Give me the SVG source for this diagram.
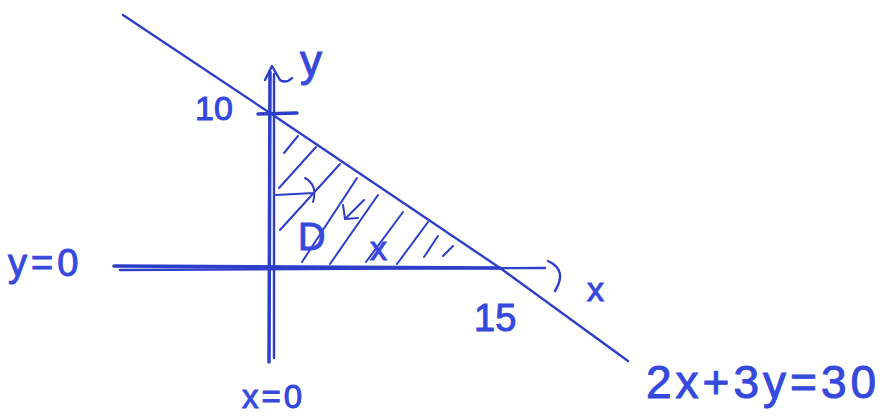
<svg xmlns="http://www.w3.org/2000/svg" width="891" height="418" viewBox="0 0 891 418">
<style>
.ln{fill:none;stroke:#2d3fc8;stroke-linecap:round;stroke-linejoin:round}
.ax{stroke-width:3.5}
.th{stroke-width:2.4}
.ht{stroke-width:2}
.lbl{font-family:"Liberation Sans",Arial,sans-serif;fill:#3549dc;stroke:#3549dc;stroke-width:1}
</style>
<rect width="891" height="418" fill="#ffffff"/>
<g id="connectors">
  <g id="line-2x3y30">
    <path class="ln th" d="M123 15 L270 113 L500 268 L628 361"/>
  </g>
  <g id="y-axis">
    <path class="ln ax" d="M269 362 L270 72"/>
    <path class="ln th" d="M274 358 L274 74"/>
    <path class="ln th" d="M265 80 L272 66 L280 80 Q286 84 292 78"/>
    <path class="ln ax" d="M258 114 L297 113"/>
  </g>
  <g id="x-axis">
    <path class="ln ax" d="M114 266 L500 268"/>
    <path class="ln th" d="M120 270 L300 269 L545 268"/>
    <path class="ln th" d="M548 261 Q568 270 555 291"/>
  </g>
  <g id="hatching">
    <path class="ln ht" d="M284 153 L298 136"/>
    <path class="ln ht" d="M279 188 L316 147"/>
    <path class="ln ht" d="M280 230 L340 164"/>
    <path class="ln ht" d="M302 262 L357 178"/>
    <path class="ln ht" d="M330 264 L378 195"/>
    <path class="ln ht" d="M366 262 L403 212"/>
    <path class="ln ht" d="M397 264 L428 222"/>
    <path class="ln ht" d="M424 257 L438 236"/>
    <path class="ln ht" d="M443 256 L453 246"/>
  </g>
  <g id="region-arrows">
    <path class="ln ht" d="M276 195 L314 193 M305 178 Q318 185 313 202"/>
    <path class="ln ht" d="M364 200 L346 218 M343 205 L345 219 L358 218"/>
  </g>
</g>
<g id="labels">
  <g id="label-10"><text class="lbl" x="195" y="120" font-size="34">10</text></g>
  <g id="label-y"><text class="lbl" x="300" y="76" font-size="44">y</text></g>
  <g id="label-y0"><text class="lbl" x="8" y="276" font-size="38" letter-spacing="4">y=0</text></g>
  <g id="label-x0"><text class="lbl" x="242" y="408" font-size="33" letter-spacing="3">x=0</text></g>
  <g id="label-15"><text class="lbl" x="474" y="331" font-size="38">15</text></g>
  <g id="label-x"><text class="lbl" x="587" y="301" font-size="34">x</text></g>
  <g id="label-eq"><text class="lbl" x="646" y="398" font-size="46" letter-spacing="4">2x+3y=30</text></g>
  <g id="label-D"><text class="lbl" x="298" y="250" font-size="38">D</text></g>
  <g id="label-xr"><text class="lbl" x="370" y="260" font-size="34">x</text></g>
</g>
</svg>
